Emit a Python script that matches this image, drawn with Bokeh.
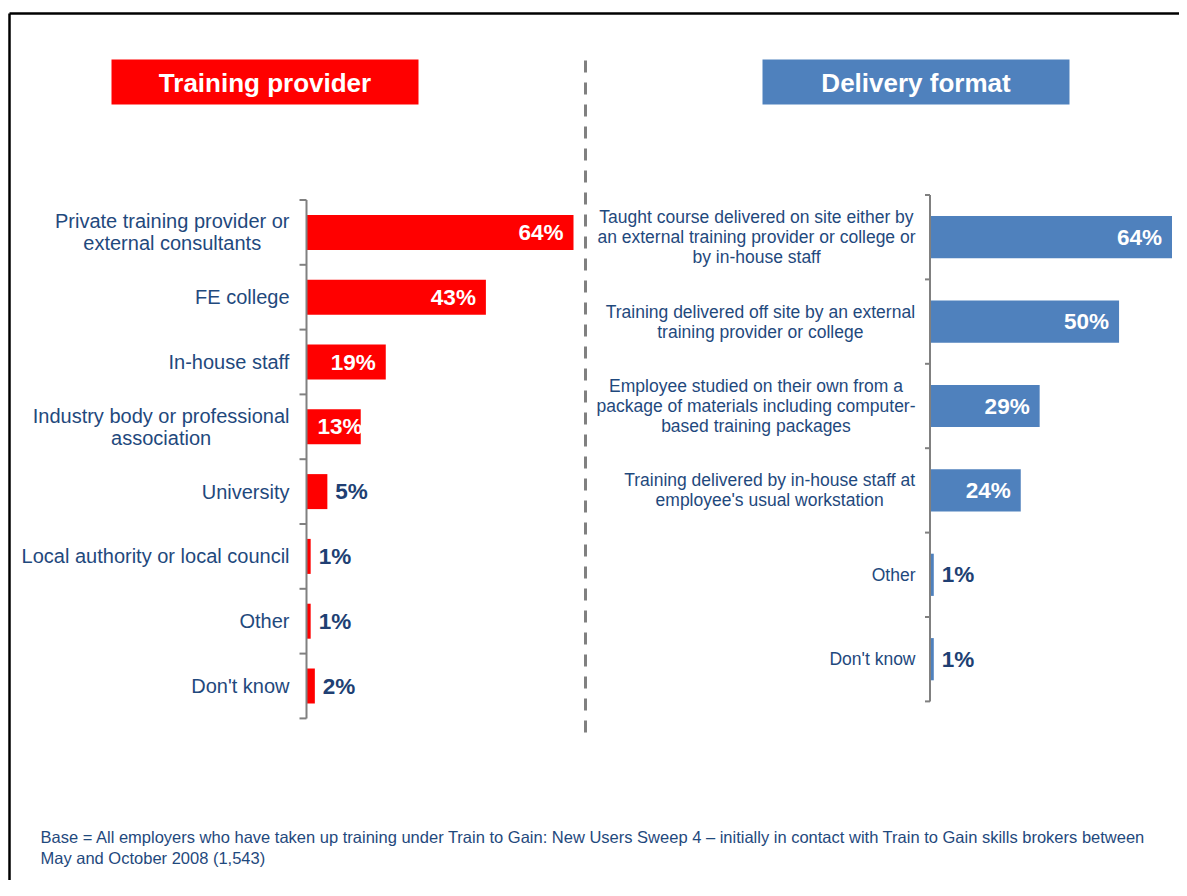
from bokeh.plotting import figure
from bokeh.models import Range1d, ColumnDataSource
from bokeh.core.properties import value
from bokeh.embed import file_html
from bokeh.resources import INLINE

# ---------------- data ----------------
provider_labels = [
    "Private training provider or\nexternal consultants",
    "FE college",
    "In-house staff",
    "Industry body or professional\nassociation",
    "University",
    "Local authority or local council",
    "Other",
    "Don't know",
]
provider_values = [64, 43, 19, 13, 5, 1, 1, 2]

format_labels = [
    "Taught course delivered on site either by\nan external training provider or college or\nby in-house staff",
    "Training delivered off site by an external\ntraining provider or college",
    "Employee studied on their own from a\npackage of materials including computer-\nbased training packages",
    "Training delivered by in-house staff at\nemployee's usual workstation",
    "Other",
    "Don't know",
]
format_values = [64, 50, 29, 24, 1, 1]

title_left = "Training provider"
title_right = "Delivery format"
footnote_lines = [
    "Base = All employers who have taken up training under Train to Gain: New Users Sweep 4 \u2013 "
    "initially in contact with Train to Gain skills brokers between",
    "May and October 2008 (1,543)",
]

# ---------------- style ----------------
W, H = 1179, 880
FONT = "Liberation Sans"
NAVY = "#1F497D"
NAVY_DARK = "#203F73"
RED = "#FF0000"
BLUE = "#4F81BD"
GREY = "#808080"
VAL_PX = 22.5

# Arial / Liberation Sans advance widths (1/1000 em) for label width estimates
_W = {" ": 278, "-": 333, "'": 191, ",": 278, ".": 278, "%": 889}
_W.update({c: 556 for c in "0123456789"})
_W.update({c: w for c, w in zip("abcdefghijklmnopqrstuvwxyz",
          [556, 556, 500, 556, 556, 278, 556, 556, 222, 222, 500, 222, 833,
           556, 556, 556, 556, 333, 500, 278, 556, 500, 722, 500, 500, 500])})
_W.update({c: w for c, w in zip("ABCDEFGHIJKLMNOPQRSTUVWXYZ",
          [667, 667, 722, 722, 667, 611, 778, 722, 278, 500, 667, 556, 833,
           722, 778, 667, 778, 722, 667, 611, 722, 667, 944, 667, 667, 611])})


def text_width(s, px):
    return max(sum(_W.get(c, 556) for c in line) for line in s.split("\n")) * px / 1000


# panel geometry (page pixels)
L_AXIS_X, L_SCALE, L_TOP, L_STEP = 306, 267 / 64, 199.5, 64.8
R_AXIS_X, R_SCALE, R_TOP, R_STEP = 929.5, 242 / 64, 194.5, 84.4

p = figure(width=W, height=H, output_backend="svg", toolbar_location=None,
           x_range=Range1d(0, W), y_range=Range1d(H, 0),
           x_axis_type=None, y_axis_type=None, min_border=0)
p.outline_line_color = None
p.xgrid.visible = False
p.ygrid.visible = False
p.background_fill_color = "white"

p.extra_x_ranges = {
    "lx": Range1d(-L_AXIS_X / L_SCALE, (W - L_AXIS_X) / L_SCALE),
    "rx": Range1d(-R_AXIS_X / R_SCALE, (W - R_AXIS_X) / R_SCALE),
}
p.extra_y_ranges = {
    "ly": Range1d((H - L_TOP) / L_STEP - 0.5, -L_TOP / L_STEP - 0.5),
    "ry": Range1d((H - R_TOP) / R_STEP - 0.5, -R_TOP / R_STEP - 0.5),
}

# ---------------- decorations ----------------
p.segment(x0=[9, 9], y0=[13, 13], x1=[W, 9], y1=[13, H], line_color="black", line_width=2.5)
p.quad(left=[111], right=[418], top=[59], bottom=[104], fill_color=RED, line_color=None)
p.quad(left=[762], right=[1069], top=[59], bottom=[104], fill_color=BLUE, line_color=None)
p.text(x=[264.5, 915.5], y=[82, 82], text=[title_left, title_right], text_color="white",
       text_font=value(FONT), text_font_style="bold", text_font_size="26px",
       text_align="center", text_baseline="middle")
p.segment(x0=[585], y0=[60], x1=[585], y1=[741], line_color=GREY, line_width=3,
          line_dash="12 10")
p.text(x=[40, 40], y=[836, 857], text=footnote_lines, text_color=NAVY, text_font=value(FONT),
       text_font_size="16.5px", text_align="left", text_baseline="middle")


def panel(labels, values, xr, yr, scale, color, label_px, label_off, tick_px, bar_h):
    n = len(labels)
    idx = list(range(n))
    src = ColumnDataSource(dict(y=idx, v=values, lab=labels))
    p.hbar(y="y", left=0, right="v", height=bar_h, source=src, fill_color=color,
           line_color=None, x_range_name=xr, y_range_name=yr)
    # axis line and boundary ticks
    bounds = [i - 0.5 for i in range(n + 1)]
    p.segment(x0=[0], y0=[-0.5], x1=[0], y1=[n - 0.5], line_color=GREY, line_width=2,
              x_range_name=xr, y_range_name=yr)
    p.segment(x0=[0] * len(bounds), y0=bounds, x1=[-tick_px / scale] * len(bounds), y1=bounds,
              line_color=GREY, line_width=2, x_range_name=xr, y_range_name=yr)
    # category labels: block right-aligned at the axis, lines centred within block
    offs = [label_off - text_width(s, label_px) / 2 for s in labels]
    lsrc = ColumnDataSource(dict(x=[0] * n, y=idx, lab=labels, off=offs))
    p.text(x="x", y="y", text="lab", x_offset="off", source=lsrc, text_align="center",
           text_baseline="middle", text_color=NAVY, text_font=value(FONT),
           text_font_size=f"{label_px}px", text_line_height=1.0,
           x_range_name=xr, y_range_name=yr)
    # value labels: inside end (white) for large bars, outside (navy) for small ones
    ins = [i for i in idx if values[i] >= 10]
    out = [i for i in idx if values[i] < 10]
    ins_txt = [f"{values[i]}%" for i in ins]
    ins_off = [max(values[i] * scale - 10, 11 + text_width(t, VAL_PX)) - values[i] * scale
               for i, t in zip(ins, ins_txt)]
    isrc = ColumnDataSource(dict(x=[values[i] for i in ins], y=ins, t=ins_txt, off=ins_off))
    p.text(x="x", y="y", text="t", x_offset="off", source=isrc,
           text_align="right", text_baseline="middle", text_color="white",
           text_font=value(FONT), text_font_style="bold", text_font_size=f"{VAL_PX}px",
           x_range_name=xr, y_range_name=yr)
    p.text(x=[values[i] for i in out], y=out, text=[f"{values[i]}%" for i in out],
           x_offset=8, text_align="left", text_baseline="middle", text_color=NAVY_DARK,
           text_font=value(FONT), text_font_style="bold", text_font_size=f"{VAL_PX}px",
           x_range_name=xr, y_range_name=yr)


panel(provider_labels, provider_values, "lx", "ly", L_SCALE, RED, 20, -17, 7, 0.54)
panel(format_labels, format_values, "rx", "ry", R_SCALE, BLUE, 17.5, -14.5, 5, 0.5)

open("out.html", "w").write(file_html(p, INLINE))
